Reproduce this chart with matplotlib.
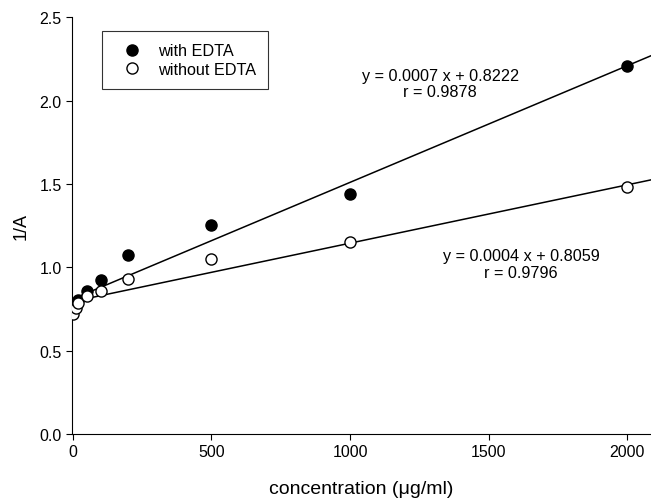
import numpy as np
import matplotlib
matplotlib.use("Agg")
import matplotlib.pyplot as plt

plt.rcParams["font.family"] = ["Liberation Sans", "DejaVu Sans"]

conc_edta = [20, 50, 100, 200, 500, 1000, 2000]
inv_a_edta = [0.804, 0.86, 0.926, 1.076, 1.254, 1.438, 2.21]

conc_no_edta = [0, 10, 20, 50, 100, 200, 500, 1000, 2000]
inv_a_no_edta = [0.72, 0.754, 0.786, 0.826, 0.856, 0.93, 1.05, 1.152, 1.48]

# regression lines as drawn
fit_slope = [0.0007, 0.00035]
fit_icept = [0.81, 0.795]
fit_text = ["y = 0.0007 x + 0.8222\nr = 0.9878",
            "y = 0.0004 x + 0.8059\nr = 0.9796"]

fig = plt.figure(figsize=(6.51, 5.02), dpi=100)
ax = fig.add_axes([0.1106, 0.1335, 0.8894, 0.8300])

xmin, xmax = -3, 2085
xs = np.array([0, xmax])
for s, b in zip(fit_slope, fit_icept):
    ax.plot(xs, s * xs + b, color="black", lw=1.1, zorder=2)

ax.plot(conc_edta, inv_a_edta, "o", ms=8, mfc="black", mec="black",
        mew=1, label="with EDTA", zorder=3)
ax.plot(conc_no_edta, inv_a_no_edta, "o", ms=8, mfc="white", mec="black",
        mew=1, label="without EDTA", zorder=4)

ax.set_xlim(xmin, xmax)
ax.set_ylim(0, 2.5)
ax.set_xticks([0, 500, 1000, 1500, 2000])
ax.set_yticks([0.0, 0.5, 1.0, 1.5, 2.0, 2.5])
ax.yaxis.set_major_formatter(matplotlib.ticker.FormatStrFormatter("%.1f"))
ax.tick_params(direction="out", length=4.5, width=0.8, labelsize=11.5, pad=3)
ax.spines["top"].set_visible(False)
ax.spines["right"].set_visible(False)
for sp in ["left", "bottom"]:
    ax.spines[sp].set_linewidth(0.8)
ax.set_xlabel("concentration (μg/ml)", fontsize=14, labelpad=15)
ax.set_ylabel("1/A", fontsize=13, labelpad=7)

leg = ax.legend(loc="upper left", bbox_to_anchor=(0.051, 0.967), frameon=True,
                fancybox=False, edgecolor="black", fontsize=11.7,
                handletextpad=0.5, borderpad=0.75, handlelength=2.2,
                labelspacing=0.2, borderaxespad=0)
leg.get_frame().set_linewidth(0.8)

ax.text(0.636, 0.842, fit_text[0], transform=ax.transAxes, ha="center",
        va="center", fontsize=11.7, linespacing=1.1)
ax.text(0.776, 0.408, fit_text[1], transform=ax.transAxes, ha="center",
        va="center", fontsize=11.7, linespacing=1.1)

fig.savefig("out.png", dpi=100)
